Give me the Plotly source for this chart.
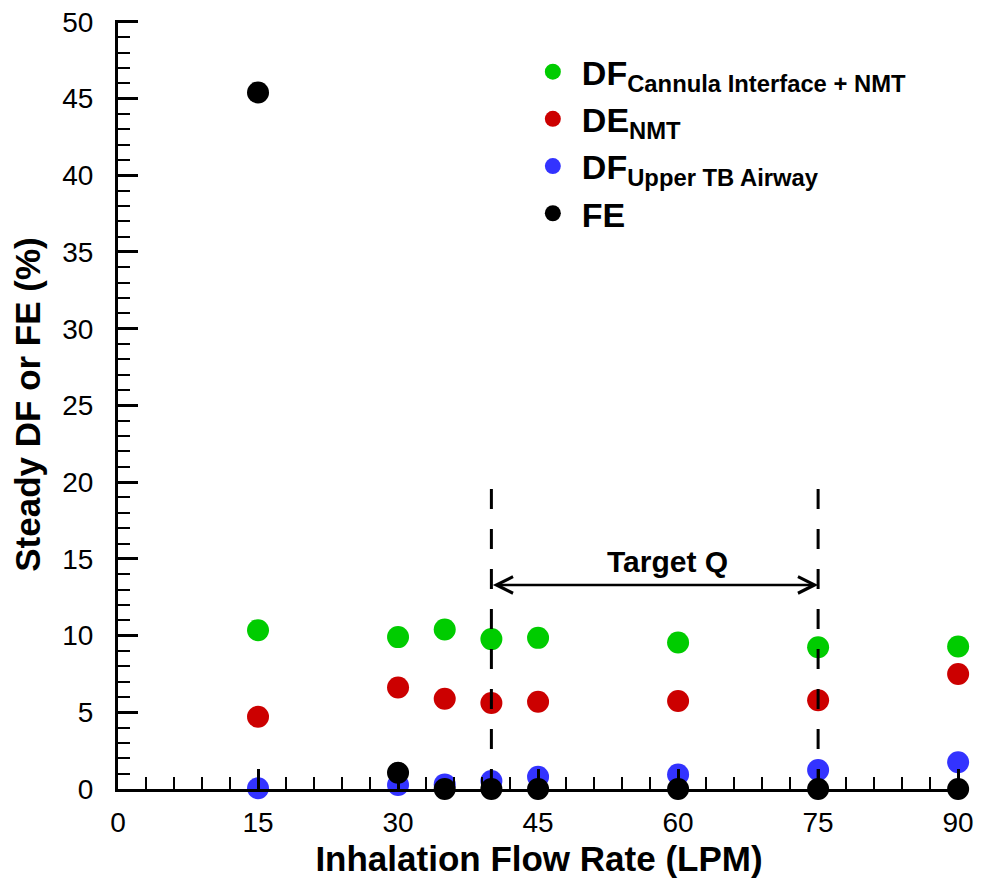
import plotly.graph_objects as go

flow_rate = [15, 30, 35, 40, 45, 60, 75, 90]
df_cannula_nmt = [10.35, 9.9, 10.4, 9.77, 9.85, 9.55, 9.24, 9.29]
de_nmt = [4.71, 6.62, 5.88, 5.6, 5.69, 5.73, 5.79, 7.49]
df_upper_tb = [0.05, 0.26, 0.3, 0.52, 0.8, 0.95, 1.24, 1.74]
fe = [45.4, 1.06, 0.0, 0.0, 0.0, 0.0, 0.0, 0.0]

series_names = ["DF<sub>Cannula Interface + NMT</sub>", "DE<sub>NMT</sub>",
                "DF<sub>Upper TB Airway</sub>", "FE"]
series_colors = ["#00CC00", "#CC0000", "#3333FF", "#000000"]

target_q = [40, 75]
target_line_top = 19.7
target_arrow_y = 13.3
target_label_x = 58.9
target_label_y = 14.8

x_ticks = [0, 15, 30, 45, 60, 75, 90]
y_ticks = [0, 5, 10, 15, 20, 25, 30, 35, 40, 45, 50]

FONT = "Liberation Sans, Arial, sans-serif"

fig = go.Figure()
for name, vals, col in zip(series_names,
                           [df_cannula_nmt, de_nmt, df_upper_tb, fe],
                           series_colors):
    fig.add_trace(go.Scatter(
        x=flow_rate, y=vals, mode="markers", name=name,
        marker=dict(size=22, color=col, line=dict(width=0)),
        cliponaxis=False,
    ))

for xv in target_q:
    fig.add_shape(type="line", xref="x", yref="y", x0=xv, x1=xv,
                  y0=0, y1=target_line_top,
                  line=dict(color="black", width=3, dash="20px,20px"),
                  layer="above")

fig.add_annotation(x=target_q[1], y=target_arrow_y, ax=target_q[0], ay=target_arrow_y,
                   xref="x", yref="y", axref="x", ayref="y", text="",
                   showarrow=True, arrowhead=5, startarrowhead=5,
                   arrowside="end+start", arrowwidth=2.5, arrowsize=1.3,
                   startarrowsize=1.3, arrowcolor="black")
fig.add_annotation(x=target_label_x, y=target_label_y,
                   xref="x", yref="y", text="Target Q", showarrow=False,
                   font=dict(family=FONT, size=30, color="black", weight="bold"))

axis_common = dict(
    showline=True, linecolor="black", linewidth=3,
    ticks="inside", ticklen=20, tickwidth=2.5, tickcolor="black",
    showgrid=False, zeroline=False, ticklabeloverflow="allow", automargin=False,
    tickfont=dict(family=FONT, size=28, color="black"),
)

fig.update_xaxes(range=[0, 90.2], tickvals=x_ticks, ticklabelstandoff=6,
                 minor=dict(dtick=3, ticks="inside", ticklen=12, tickwidth=1.5,
                            tickcolor="black", showgrid=False),
                 title=dict(text="Inhalation Flow Rate (LPM)", standoff=10,
                            font=dict(family=FONT, size=35, color="black", weight="bold")),
                 **axis_common)
fig.update_yaxes(range=[0, 50.12], tickvals=y_ticks, ticklabelstandoff=16,
                 minor=dict(dtick=1, ticks="inside", ticklen=12, tickwidth=1.5,
                            tickcolor="black", showgrid=False),
                 title=dict(text="Steady DF or FE (%)", standoff=12,
                            font=dict(family=FONT, size=35, color="black", weight="bold")),
                 **axis_common)

fig.update_layout(
    width=974, height=876,
    margin=dict(l=110, r=22, t=12, b=95, autoexpand=False),
    plot_bgcolor="white", paper_bgcolor="white",
    showlegend=True,
    legend=dict(x=0.482, y=0.97, xanchor="left", yanchor="top",
                bgcolor="rgba(0,0,0,0)", borderwidth=0,
                font=dict(family=FONT, size=34, color="black", weight="bold"),
                itemsizing="trace", itemwidth=48, tracegroupgap=0),
)

fig.write_html("out.html")
